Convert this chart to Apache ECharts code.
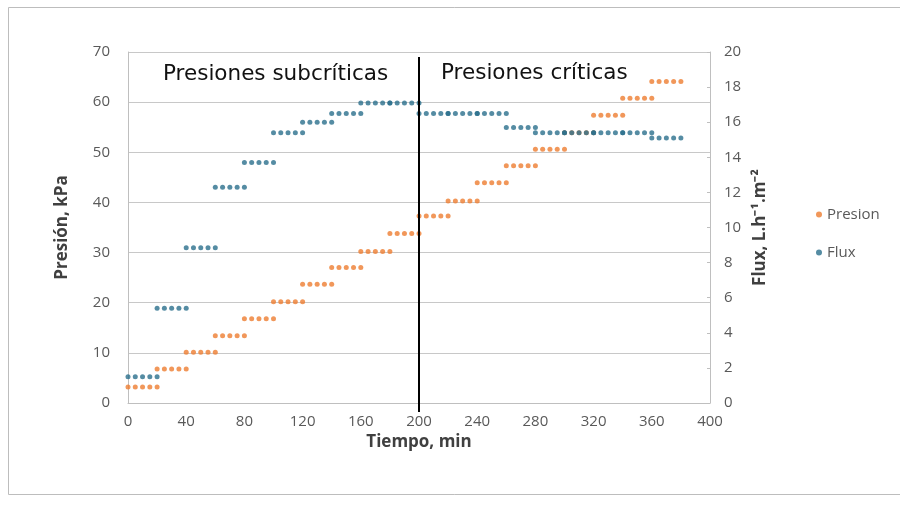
<!DOCTYPE html>
<html>
<head>
<meta charset="utf-8">
<script src="https://cdn.jsdelivr.net/npm/echarts@6/dist/echarts.min.js"></script>
<style>html,body{margin:0;padding:0;background:#fff;}#c{width:900px;height:506px;}</style>
</head>
<body>
<div id="c"></div>
<script>
// Time (min) of each reading
const tiempo = [
  0,5,10,15,20,        20,25,30,35,40,      40,45,50,55,60,      60,65,70,75,80,
  80,85,90,95,100,     100,105,110,115,120, 120,125,130,135,140, 140,145,150,155,160,
  160,165,170,175,180, 180,185,190,195,200, 200,205,210,215,220, 220,225,230,235,240,
  240,245,250,255,260, 260,265,270,275,280, 280,285,290,295,300, 300,305,310,315,320,
  320,325,330,335,340, 340,345,350,355,360, 360,365,370,375,380
];
// Presion (kPa)
const presion = [
  3.2,3.2,3.2,3.2,3.2,       6.8,6.8,6.8,6.8,6.8,       10.1,10.1,10.1,10.1,10.1,  13.4,13.4,13.4,13.4,13.4,
  16.8,16.8,16.8,16.8,16.8,  20.2,20.2,20.2,20.2,20.2,  23.7,23.7,23.7,23.7,23.7,  27.0,27.0,27.0,27.0,27.0,
  30.2,30.2,30.2,30.2,30.2,  33.8,33.8,33.8,33.8,33.8,  37.3,37.3,37.3,37.3,37.3,  40.3,40.3,40.3,40.3,40.3,
  43.9,43.9,43.9,43.9,43.9,  47.3,47.3,47.3,47.3,47.3,  50.6,50.6,50.6,50.6,50.6,  53.9,53.9,53.9,53.9,53.9,
  57.4,57.4,57.4,57.4,57.4,  60.8,60.8,60.8,60.8,60.8,  64.1,64.1,64.1,64.1,64.1
];
// Flux (L.h-1.m-2)
const flux = [
  1.5,1.5,1.5,1.5,1.5,       5.4,5.4,5.4,5.4,5.4,       8.85,8.85,8.85,8.85,8.85,  12.3,12.3,12.3,12.3,12.3,
  13.7,13.7,13.7,13.7,13.7,  15.4,15.4,15.4,15.4,15.4,  16.0,16.0,16.0,16.0,16.0,  16.5,16.5,16.5,16.5,16.5,
  17.1,17.1,17.1,17.1,17.1,  17.1,17.1,17.1,17.1,17.1,  16.5,16.5,16.5,16.5,16.5,  16.5,16.5,16.5,16.5,16.5,
  16.5,16.5,16.5,16.5,16.5,  15.7,15.7,15.7,15.7,15.7,  15.4,15.4,15.4,15.4,15.4,  15.4,15.4,15.4,15.4,15.4,
  15.4,15.4,15.4,15.4,15.4,  15.4,15.4,15.4,15.4,15.4,  15.1,15.1,15.1,15.1,15.1
];
// Divider between subcritical and critical pressures
const divisorX = [200, 200];
const divisorY = [-1.8, 69];

const xTicks = {min: 0, max: 400, interval: 40};
const yLeft = {min: 0, max: 70, interval: 10};
const yRight = {min: 0, max: 20, interval: 2};

const presionData = tiempo.map((t, i) => [t, presion[i]]);
const fluxData = tiempo.map((t, i) => [t, flux[i]]);
const divisorData = divisorX.map((x, i) => [x, divisorY[i]]);

const chart = echarts.init(document.getElementById('c'), null, {renderer: 'canvas'});
const labelFont = {color: '#595959', fontSize: 15, fontFamily: 'Open Sans'};
const nameFont = {color: '#404040', fontSize: 17, fontWeight: 'bold', fontFamily: 'Open Sans'};
chart.setOption({
  animation: false,
  backgroundColor: '#ffffff',
  grid: {left: 128, right: 190, top: 52, bottom: 103, containLabel: false},
  graphic: [
    {type: 'rect', left: 6, top: 5, shape: {width: 900, height: 487}, style: {fill: 'none', stroke: '#bdbdbd', lineWidth: 1}, z: -1, silent: true},
    {type: 'text', left: 163, top: 63, style: {text: 'Presiones subcríticas', fontSize: 21.5, fontFamily: 'DejaVu Sans', fill: '#111'}},
    {type: 'text', left: 441, top: 62, style: {text: 'Presiones críticas', fontSize: 21.5, fontFamily: 'DejaVu Sans', fill: '#111'}}
  ],
  legend: {
    orient: 'vertical', left: 811, top: 202, itemGap: 23,
    itemWidth: 6, itemHeight: 6,
    textStyle: {color: '#595959', fontSize: 15, fontFamily: 'Open Sans'},
    data: [{name: 'Presion', icon: 'circle'}, {name: 'Flux', icon: 'circle'}]
  },
  xAxis: {
    type: 'value', min: xTicks.min, max: xTicks.max, interval: xTicks.interval,
    name: 'Tiempo, min', nameLocation: 'middle', nameGap: 29,
    nameTextStyle: nameFont,
    axisLine: {lineStyle: {color: '#bfbfbf'}},
    axisTick: {show: false},
    axisLabel: Object.assign({margin: 11}, labelFont),
    splitLine: {show: false}
  },
  yAxis: [
    {
      type: 'value', min: yLeft.min, max: yLeft.max, interval: yLeft.interval,
      name: 'Presión, kPa', nameLocation: 'middle', nameGap: 57, nameRotate: 90,
      nameTextStyle: nameFont,
      axisLine: {show: true, lineStyle: {color: '#bfbfbf'}},
      axisTick: {show: false},
      axisLabel: Object.assign({margin: 18}, labelFont),
      splitLine: {show: true, lineStyle: {color: '#c8c8c8', width: 1}}
    },
    {
      type: 'value', min: yRight.min, max: yRight.max, interval: yRight.interval,
      name: 'Flux, L.h⁻¹.m⁻²', nameLocation: 'middle', nameGap: 41, nameRotate: 90,
      nameTextStyle: nameFont,
      axisLine: {show: true, lineStyle: {color: '#bfbfbf'}},
      axisTick: {show: true, inside: true, length: 3, lineStyle: {color: '#bfbfbf'}},
      axisLabel: Object.assign({margin: 14}, labelFont),
      splitLine: {show: false}
    }
  ],
  series: [
    {
      name: 'Presion', type: 'scatter', yAxisIndex: 0, data: presionData,
      symbol: 'circle', symbolSize: 5, itemStyle: {color: '#ed7d31'}
    },
    {
      name: 'Flux', type: 'scatter', yAxisIndex: 1, data: fluxData,
      symbol: 'circle', symbolSize: 5, itemStyle: {color: '#2b6f8c'}
    },
    {
      name: 'divisor', type: 'line', yAxisIndex: 0, data: divisorData, clip: false,
      symbol: 'none', lineStyle: {color: '#000', width: 2}, z: 5, silent: true
    }
  ]
});
</script>
</body>
</html>
